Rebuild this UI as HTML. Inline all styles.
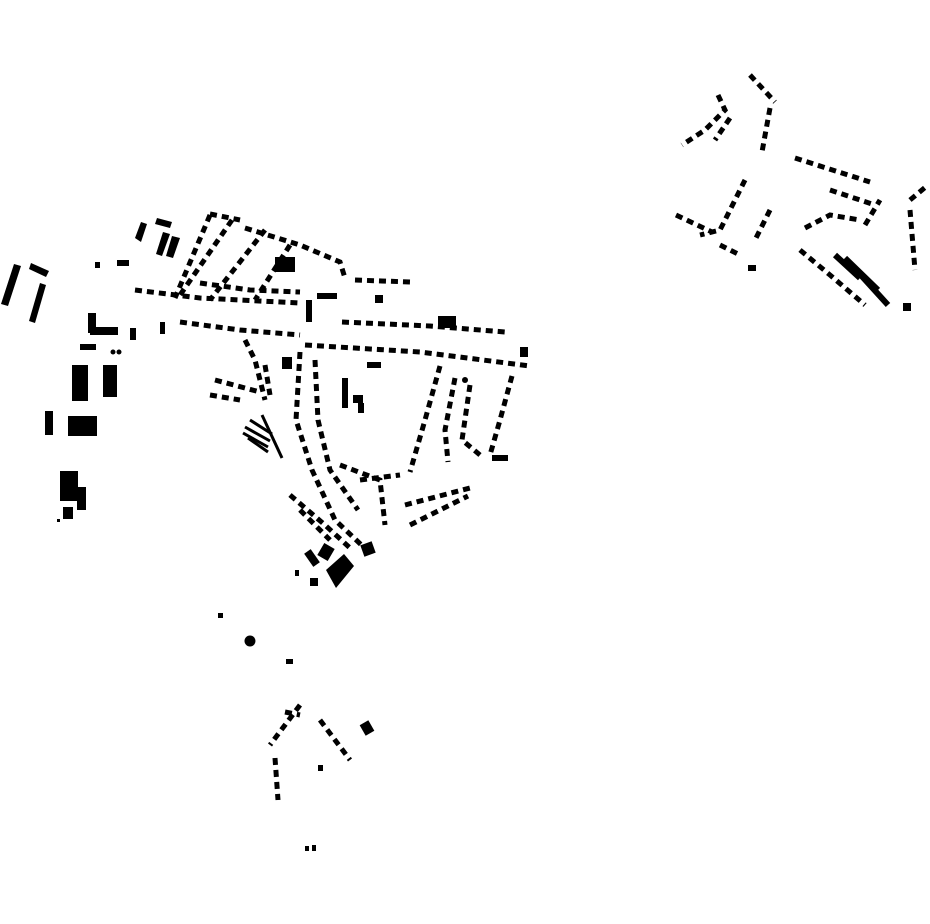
<!DOCTYPE html>
<html><head><meta charset="utf-8"><style>html,body{margin:0;padding:0;background:#fff}svg{display:block}</style></head>
<body>
<svg width="930" height="924" viewBox="0 0 930 924" xmlns="http://www.w3.org/2000/svg">
<rect width="930" height="924" fill="#fff"/>
<g fill="#000">
<!-- west cluster -->
<polygon points="14,264 21,266 8,306 1,304"/>
<polygon points="31,263 49,271 46,277 29,269"/>
<polygon points="40,283 46,285 35,323 29,321"/>
<rect x="88" y="313" width="8" height="20"/>
<rect x="90" y="327" width="28" height="8"/>
<rect x="80" y="344" width="16" height="6"/>
<circle cx="113" cy="352" r="2.5"/><circle cx="119" cy="352" r="2.5"/>
<rect x="72" y="365" width="16" height="36"/>
<rect x="103" y="365" width="14" height="32"/>
<rect x="45" y="411" width="8" height="24"/>
<rect x="68" y="416" width="29" height="20"/>
<rect x="60" y="471" width="18" height="30"/>
<rect x="77" y="487" width="9" height="23"/>
<rect x="63" y="507" width="10" height="12"/>
<rect x="57" y="519" width="3" height="3"/>
<polygon points="135,238 141,222 147,224 141,242"/>
<polygon points="157,218 172,222 170,228 155,224"/>
<polygon points="163,232 170,234 162,256 156,254"/>
<polygon points="172,236 180,238 173,258 166,256"/>
<rect x="117" y="260" width="12" height="6"/>
<rect x="95" y="262" width="5" height="6"/>
<rect x="130" y="328" width="6" height="12"/>
<rect x="160" y="322" width="5" height="12"/>
<!-- main cluster blocks -->
<rect x="275" y="257" width="20" height="15"/>
<rect x="317" y="293" width="20" height="6"/>
<rect x="306" y="300" width="6" height="22"/>
<rect x="438" y="316" width="18" height="12"/>
<rect x="375" y="295" width="8" height="8"/>
<rect x="282" y="357" width="10" height="12"/>
<rect x="367" y="362" width="14" height="6"/>
<rect x="342" y="378" width="6" height="30"/>
<rect x="353" y="395" width="10" height="8"/>
<rect x="358" y="403" width="6" height="10"/>
<rect x="520" y="347" width="8" height="10"/>
<circle cx="465" cy="380" r="3"/>
<rect x="492" y="455" width="16" height="6"/>
<polygon points="326,570 344,554 354,566 336,588"/>
<rect x="320" y="545" width="12" height="14" transform="rotate(30 326 552)"/>
<rect x="362" y="543" width="12" height="12" transform="rotate(-20 368 549)"/>
<rect x="308" y="550" width="8" height="16" transform="rotate(-35 312 558)"/>
<rect x="310" y="578" width="8" height="8"/>
<rect x="295" y="570" width="4" height="6"/>
<!-- hatched fan -->
<g stroke="#000" stroke-width="3">
<line x1="243" y1="433" x2="268" y2="447"/><line x1="245" y1="427" x2="270" y2="441"/>
<line x1="248" y1="438" x2="268" y2="452"/><line x1="250" y1="420" x2="272" y2="434"/>
<line x1="262" y1="415" x2="282" y2="458"/>
</g>
</g>
<!-- dashed building rows -->
<g stroke="#000" stroke-width="5" fill="none" stroke-dasharray="7 5">
<polyline points="135,290 200,298 300,303"/>
<polyline points="180,322 240,330 300,335"/>
<polyline points="305,345 420,352 530,366"/>
<polyline points="342,322 430,326 505,332"/>
<polyline points="210,214 240,220"/>
<polyline points="232,220 180,295"/>
<polyline points="210,215 175,298"/>
<polyline points="265,230 210,300"/>
<polyline points="290,245 255,300"/>
<polyline points="245,228 300,245 340,262 345,278"/>
<polyline points="200,283 250,290 300,292"/>
<polyline points="355,280 410,282"/>
<polyline points="215,380 260,392"/>
<polyline points="210,395 240,400"/>
<polyline points="245,340 255,360 265,400"/>
<polyline points="265,365 270,395"/>
<polyline points="300,352 296,420 312,470 335,520 372,555"/>
<polyline points="315,360 318,420 330,470 358,510"/>
<polyline points="290,495 325,525 350,548"/>
<polyline points="300,510 330,540"/>
<polyline points="440,366 425,420 410,472"/>
<polyline points="455,378 445,430 448,462"/>
<polyline points="512,376 500,420 490,455"/>
<polyline points="470,385 462,440 480,455"/>
<polyline points="405,505 470,488"/>
<polyline points="410,525 468,496"/>
<polyline points="340,465 380,480 385,525"/>
<polyline points="360,480 400,475"/>
<!-- NE -->
<polyline points="750,75 775,102"/>
<polyline points="770,108 762,152"/>
<polyline points="718,95 725,110 705,130 682,145"/>
<polyline points="730,118 715,140"/>
<polyline points="795,158 870,182"/>
<polyline points="830,190 875,205"/>
<polyline points="745,180 720,230 700,235"/>
<polyline points="676,215 712,232"/>
<polyline points="770,210 755,240"/>
<polyline points="720,245 740,255"/>
<polyline points="805,228 830,215 860,220"/>
<polyline points="800,250 830,275 865,305"/>
<polyline points="910,200 928,185"/>
<polyline points="910,210 915,270"/>
<polyline points="865,225 880,200"/>
<!-- south -->
<polyline points="300,705 270,745"/>
<polyline points="320,720 350,760"/>
<polyline points="275,758 278,800"/>
<polyline points="285,712 300,715"/>
</g>
<g stroke="#000" stroke-width="6" fill="none">
<line x1="835" y1="255" x2="860" y2="278"/>
<line x1="858" y1="272" x2="888" y2="305"/>
<line x1="845" y1="258" x2="878" y2="290"/>
</g>
<g fill="#000">
<rect x="362" y="722" width="10" height="12" transform="rotate(-30 367 728)"/>
<circle cx="250" cy="641" r="5.5"/>
<rect x="286" y="659" width="7" height="5"/>
<rect x="218" y="613" width="5" height="5"/>
<rect x="305" y="846" width="4" height="5"/><rect x="312" y="845" width="4" height="6"/>
<rect x="318" y="765" width="5" height="6"/>
<rect x="748" y="265" width="8" height="6"/>
<rect x="903" y="303" width="8" height="8"/>
</g>
</svg>
</body></html>
